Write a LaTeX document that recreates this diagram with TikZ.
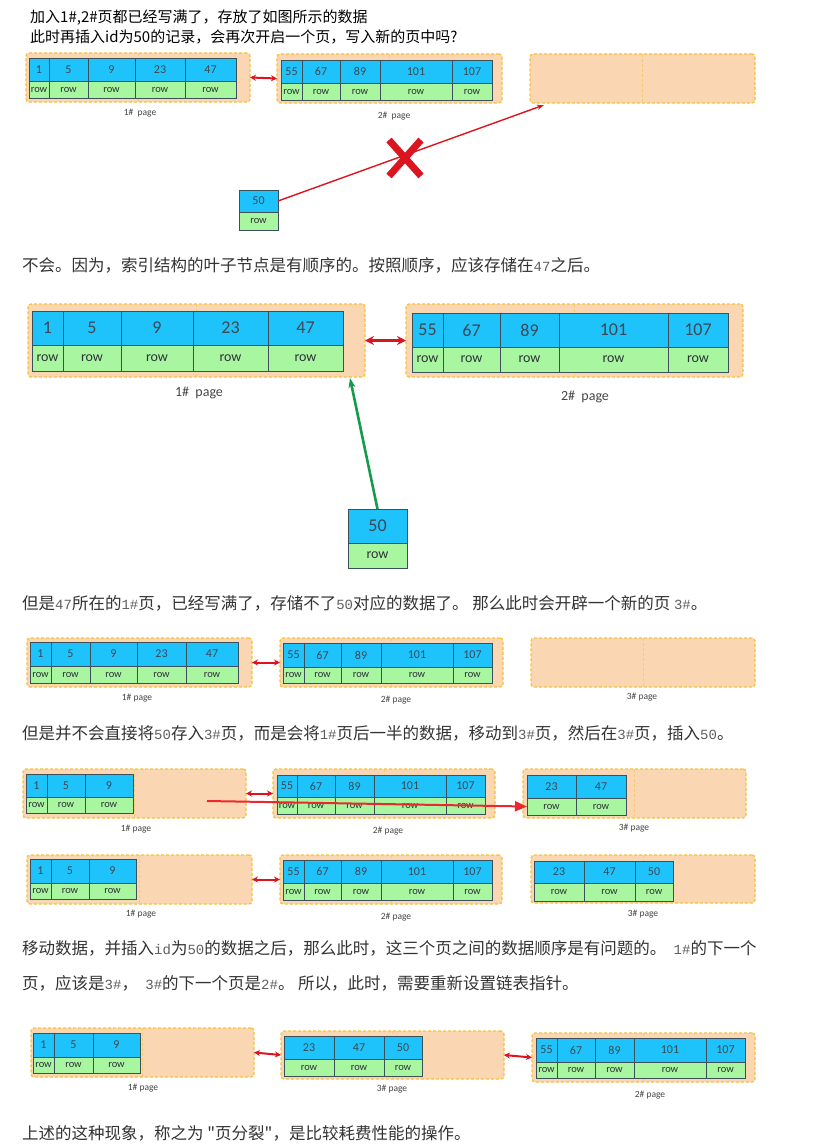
\documentclass[tikz,border=0pt]{standalone}
\usepackage{fontspec}
\newfontfamily\cjk{Noto Sans CJK SC}
\newfontfamily\calib{Carlito}
\newfontfamily\codefont{Liberation Mono}
\usetikzlibrary{arrows.meta}
\definecolor{keyblue}{RGB}{30,195,252}
\definecolor{rowgreen}{RGB}{168,246,160}
\definecolor{cellline}{RGB}{60,80,90}
\definecolor{pagefill}{RGB}{250,214,178}
\definecolor{pageline}{RGB}{245,195,60}
\definecolor{arrowred}{RGB}{220,20,30}
\definecolor{movered}{RGB}{235,40,45}
\definecolor{arrowgreen}{RGB}{20,155,75}
\definecolor{bodygray}{RGB}{51,51,51}
\definecolor{codegray}{RGB}{95,95,95}
\definecolor{numgray}{RGB}{60,72,85}
\definecolor{rowtext}{RGB}{45,50,55}
\definecolor{labelgray}{RGB}{70,70,70}
\newcommand\code[1]{{\codefont\fontsize{14}{15}\selectfont\color{codegray}#1}}
% page frame: name, x0, y0, x1, y1
\newcommand\pagebox[5]{%
  \node[PG, minimum width={(#4-#2)*1pt}, minimum height={(#5-#3)*1pt}] (#1) at ({(#2+#4)/2},{(#3+#5)/2}) {};
  \draw[PD] (#1.north) -- (#1.south);}
% table of a page: name, y top, y mid, y bottom, x0/x1/key list
\newcommand\pagecells[5]{%
  \foreach \xa/\xb/\v [count=\i] in {#5}{%
    \node[KC, minimum width={(\xb-\xa)*1pt}, minimum height={(#3-#2)*1pt}] (#1k\i) at ({(\xa+\xb)/2},{(#2+#3)/2}) {\v};
    \node[RC, minimum width={(\xb-\xa)*1pt}, minimum height={(#4-#3)*1pt}] (#1r\i) at ({(\xa+\xb)/2},{(#3+#4)/2}) {row};
  }}
\tikzset{
    PG/.style ={rectangle, rounded corners=3pt, fill=pagefill, draw=pageline, line width=1.3pt, dash pattern=on 3pt off 2pt, inner sep=0, outer sep=0},
    PD/.style ={draw=pageline!55!pagefill, line width=0.6pt, dash pattern=on 3pt off 2pt},
    KC/.style ={rectangle, fill=keyblue, draw=cellline, line width=0.7pt, inner sep=0, outer sep=0, text=numgray, font=\calib\fontsize{12}{12}\selectfont},
    RC/.style ={rectangle, fill=rowgreen, draw=cellline, line width=0.7pt, inner sep=0, outer sep=0, text=rowtext, font=\calib\fontsize{10.5}{11}\selectfont},
    PL/.style ={text=labelgray, font=\calib\fontsize{9.5}{10}\selectfont},
    TX/.style ={anchor=west, inner sep=0, text=bodygray, font=\cjk\fontsize{16.5}{20}\selectfont},
    HD/.style ={TX, text=black, font=\cjk\fontsize{15}{18}\selectfont},
    LK/.style ={arrows={Stealth[length=6pt,width=6pt]-Stealth[length=6pt,width=6pt]}, draw=arrowred, line width=2pt},
    RA/.style ={arrows={-Stealth[length=7pt,width=5pt]}, draw=arrowred, line width=1.4pt},
    GA/.style ={arrows={-Stealth[length=10pt,width=7pt]}, draw=arrowgreen, line width=2.6pt},
    MA/.style ={arrows={-Triangle[length=12pt,width=10pt]}, draw=movered, line width=2pt},
    XX/.style ={draw=arrowred, line width=7pt}}

\begin{document}
\begin{tikzpicture}[x=1pt, y=-1pt]
    \useasboundingbox[fill=white] (0,0) rectangle (817,1148);
    % question
    \node[HD] (hd1) at (30,18) {加入1\#,2\#页都已经写满了，存放了如图所示的数据};
    \node[HD] (hd2) at (30,37) {此时再插入id为50的记录，会再次开启一个页，写入新的页中吗?};
    \pagebox{p1a}{26}{53}{250}{102}
    \pagecells{t1a}{58}{81}{98}{29/49/1, 49/88/5, 88/135/9, 135/185/23, 185/236/47}
    \node[PL] (l1a) at (140,113) {1\# \ page};
    \pagebox{p2a}{277}{54}{502}{103}
    \pagecells{t2a}{60}{83}{100}{281/302/55, 302/340/67, 340/380/89, 380/452/101, 452/492/107}
    \node[PL] (l2a) at (394,116) {2\# \ page};
    \pagebox{p3a}{530}{54}{755}{103}
    \draw[LK] (p1a.east) -- (p2a.west);
    \pagecells{s50a}{190}{212}{230}{239/278/50}
    \coordinate (tgt) at (544,105);
    \draw[RA] (s50ak1.east) -- (tgt);
    \draw[XX] (389,140) -- (421,176) (421,140) -- (389,176);
    % answer
    \node[TX] (tx1) at (22,265) {不会。因为，索引结构的叶子节点是有顺序的。按照顺序，应该存储在\code{47}之后。};
    \begin{scope}[KC/.append style={font=\calib\fontsize{18}{18}\selectfont}, RC/.append style={font=\calib\fontsize{14}{14}\selectfont}, PL/.append style={font=\calib\fontsize{14}{14}\selectfont}]
        \pagebox{p1b}{28}{304}{365}{377}
        \pagecells{t1b}{311}{345}{371}{32/63/1, 63/121/5, 121/193/9, 193/268/23, 268/343/47}
        \node[PL] (l1b) at (199,393) {1\# \ page};
        \pagebox{p2b}{406}{304}{743}{377}
        \pagecells{t2b}{313}{347}{372}{412/443/55, 443/500/67, 500/559/89, 559/668/101, 668/728/107}
        \node[PL] (l2b) at (585,397) {2\# \ page};
        \draw[LK, line width=3pt, arrows={Stealth[length=9pt,width=9pt]-Stealth[length=9pt,width=9pt]}] (p1b.east) -- (p2b.west);
        \pagecells{s50b}{509}{543}{568}{348/407/50}
        \coordinate (gtip) at (350,378);
        \draw[GA] (s50bk1.north) -- (gtip);
    \end{scope}
    % new page
    \node[TX] (tx2) at (22,603) {但是\code{47}所在的\code{1\#}页，已经写满了，存储不了\code{50}对应的数据了。 那么此时会开辟一个新的页 \code{3\#}。};
    \pagebox{p1c}{27}{638}{252}{687}
    \pagecells{t1c}{642}{666}{683}{30/51/1, 51/90/5, 90/137/9, 137/186/23, 186/238/47}
    \node[PL] (l1c) at (137,698) {1\# page};
    \pagebox{p2c}{280}{638}{503}{687}
    \pagecells{t2c}{643}{667}{683}{283/304/55, 304/341/67, 341/381/89, 381/453/101, 453/492/107}
    \node[PL] (l2c) at (396,700) {2\# page};
    \pagebox{p3c}{531}{638}{755}{687}
    \node[PL] (l3c) at (642,697) {3\# page};
    \draw[LK] (p1c.east) -- (p2c.west);
    % move half
    \node[TX] (tx3) at (22,733) {但是并不会直接将\code{50}存入\code{3\#}页，而是会将\code{1\#}页后一半的数据，移动到\code{3\#}页，然后在\code{3\#}页，插入\code{50}。};
    \pagebox{p1d}{23}{769}{246}{818}
    \pagecells{t1d}{774}{797}{813}{26/47/1, 47/85/5, 85/133/9}
    \node[PL] (l1d) at (136,829) {1\# page};
    \pagebox{p2d}{273}{769}{495}{818}
    \pagecells{t2d}{775}{797}{814}{277/297/55, 297/335/67, 335/374/89, 374/446/101, 446/485/107}
    \node[PL] (l2d) at (388,831) {2\# page};
    \pagebox{p3d}{523}{769}{746}{818}
    \pagecells{t3d}{775}{798}{815}{527/576/23, 576/626/47}
    \node[PL] (l3d) at (634,828) {3\# page};
    \draw[LK] (p1d.east) -- (p2d.west);
    \coordinate (mvs) at (207,801);
    \draw[MA] (mvs) -- (t3dr1.west);
    \pagebox{p1e}{27}{855}{252}{904}
    \pagecells{t1e}{859}{883}{899}{30/51/1, 51/89/5, 89/136/9}
    \node[PL] (l1e) at (141,914) {1\# page};
    \pagebox{p2e}{280}{855}{502}{904}
    \pagecells{t2e}{860}{883}{900}{283/304/55, 304/341/67, 341/381/89, 381/453/101, 453/492/107}
    \node[PL] (l2e) at (396,917) {2\# page};
    \pagebox{p3e}{531}{855}{755}{903}
    \pagecells{t3e}{861}{883}{901}{534/584/23, 584/635/47, 635/673/50}
    \node[PL] (l3e) at (643,914) {3\# page};
    \draw[LK] (p1e.east) -- (p2e.west);
    % relink
    \node[TX] (tx4) at (22,948) {移动数据，并插入\code{id}为\code{50}的数据之后，那么此时，这三个页之间的数据顺序是有问题的。\ \ \code{1\#}的下一个};
    \node[TX] (tx5) at (22,983) {页，应该是\code{3\#}，\ \ \code{3\#}的下一个页是\code{2\#}。 所以，此时，需要重新设置链表指针。};
    \pagebox{p1f}{31}{1028}{254}{1077}
    \pagecells{t1f}{1033}{1057}{1073}{33/54/1, 54/93/5, 93/140/9}
    \node[PL] (l1f) at (143,1088) {1\# page};
    \pagebox{p3f}{281}{1031}{504}{1079}
    \pagecells{t3f}{1036}{1059}{1076}{284/334/23, 334/384/47, 384/422/50}
    \node[PL] (l3f) at (392,1089) {3\# page};
    \pagebox{p2f}{532}{1033}{755}{1082}
    \pagecells{t2f}{1038}{1062}{1078}{536/557/55, 557/595/67, 595/634/89, 634/706/101, 706/745/107}
    \node[PL] (l2f) at (650,1095) {2\# page};
    \draw[LK] (p1f.east) -- (p3f.west);
    \draw[LK] (p3f.east) -- (p2f.west);
    \node[TX] (tx6) at (22,1133) {上述的这种现象，称之为 "页分裂"，是比较耗费性能的操作。};
\end{tikzpicture}
\end{document}
